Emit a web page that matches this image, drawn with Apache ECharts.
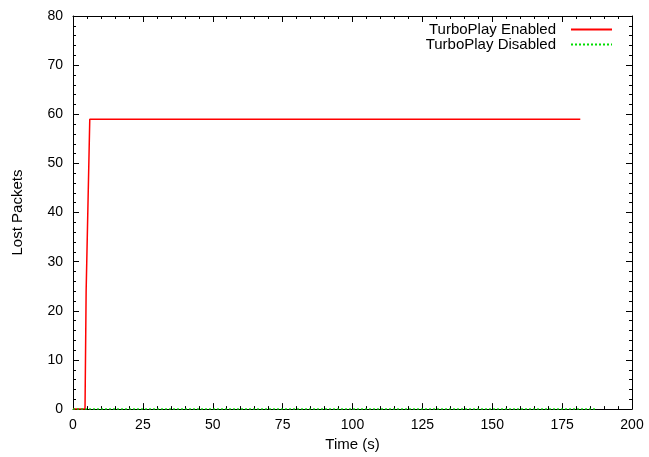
<!DOCTYPE html>
<html><head><meta charset="utf-8">
<script src="https://cdn.jsdelivr.net/npm/echarts@6/dist/echarts.min.js"></script>
<style>html,body{margin:0;padding:0;background:#fff}#c{width:649px;height:457px}</style>
</head><body><div id="c"></div>
<script>
const enabledTime = [0, 4.3, 4.7, 5.3, 6.0, 181.5];
const enabledLost = [0, 0, 24, 24, 59, 59];
const disabledTime = [0, 187];
const disabledLost = [0, 0];
const seriesNames = ['TurboPlay Enabled', 'TurboPlay Disabled'];
const xTicks = [0, 25, 50, 75, 100, 125, 150, 175, 200];
const yTicks = [0, 10, 20, 30, 40, 50, 60, 70, 80];

const font = 'Liberation Sans, Arial, sans-serif';
const axisCommon = (showLabel) => ({
  axisLine: {show: true, onZero: false, lineStyle: {color: '#000', width: 1}},
  axisTick: {show: true, inside: true, length: 6, lineStyle: {color: '#000'}},
  minorTick: {show: true, splitNumber: 5, length: 3, lineStyle: {color: '#000'}},
  splitLine: {show: false},
  axisLabel: {show: showLabel, color: '#000', fontSize: 14, fontFamily: font}
});
const chart = echarts.init(document.getElementById('c'), null, {renderer: 'canvas'});
chart.setOption({
  animation: false,
  backgroundColor: '#fff',
  grid: {left: 73, right: 17, top: 16, bottom: 47, containLabel: false},
  legend: {
    orient: 'vertical', right: 36, top: 22, align: 'right', padding: 0,
    itemWidth: 41, itemHeight: 12, itemGap: 0,
    itemStyle: {opacity: 0},
    lineStyle: {opacity: 1},
    textStyle: {fontSize: 15, lineHeight: 15, fontFamily: font, color: '#000', padding: [0, 10, 0, 0]},
    data: seriesNames
  },
  xAxis: [
    Object.assign({type: 'value', min: xTicks[0], max: xTicks[xTicks.length-1], interval: 25,
      name: 'Time (s)', nameLocation: 'middle', nameGap: 25,
      nameTextStyle: {fontSize: 15, fontFamily: font, color: '#000'}}, axisCommon(true),
      {axisLabel: {color: '#000', fontSize: 14, fontFamily: font, margin: 9}}),
    Object.assign({type: 'value', position: 'top', min: 0, max: 200, interval: 25}, axisCommon(false))
  ],
  yAxis: [
    Object.assign({type: 'value', min: yTicks[0], max: yTicks[yTicks.length-1], interval: 10,
      name: 'Lost Packets', nameLocation: 'middle', nameGap: 48,
      nameTextStyle: {fontSize: 15, fontFamily: font, color: '#000'}}, axisCommon(true),
      {axisLabel: {color: '#000', fontSize: 14, fontFamily: font, margin: 10}}),
    Object.assign({type: 'value', position: 'right', min: 0, max: 80, interval: 10}, axisCommon(false))
  ],
  series: [
    {name: seriesNames[0], type: 'line', symbol: 'none', xAxisIndex: 0, yAxisIndex: 0,
     data: enabledTime.map((t, i) => [t, enabledLost[i]]),
     lineStyle: {color: '#ff0000', width: 1.5}, itemStyle: {color: '#ff0000'}},
    {name: seriesNames[1], type: 'line', symbol: 'none', xAxisIndex: 0, yAxisIndex: 0,
     data: disabledTime.map((t, i) => [t, disabledLost[i]]),
     lineStyle: {color: '#00dd00', width: 1.5, type: [2, 2]}, itemStyle: {color: '#00dd00'}}
  ]
});
</script></body></html>
